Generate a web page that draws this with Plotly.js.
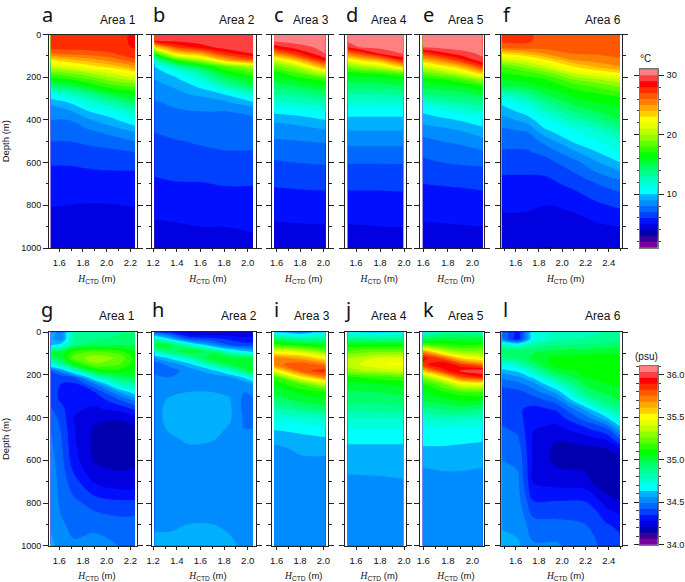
<!DOCTYPE html>
<html><head><meta charset="utf-8">
<script src="https://cdn.plot.ly/plotly-3.0.1.min.js"></script>
<style>html,body{margin:0;padding:0;background:#fff}</style></head>
<body><div id="chart" style="width:685px;height:582px"></div>
<script>
const depths=[0,30,60,90,120,150,180,210,240,280,320,360,400,450,500,550,600,700,800,900,1000];
const palette=['#7a00a0','#38009a','#0000b0','#0000e0','#0010ff','#0040ff','#0068ff','#008cff','#00b0ff','#00ffff','#00ffdc','#00ffb8','#00ff90','#00ff68','#00ff30','#00ff00','#30ff00','#60ff00','#90ff00','#c0ff00','#e8ff00','#ffff00','#ffd000','#ffa800','#ff8000','#ff5800','#ff2c00','#ff0000','#ff4040','#ff8080'];
const areaNames=['Area 1','Area 2','Area 3','Area 4','Area 5','Area 6'];
const letters=['a','b','c','d','e','f','g','h','i','j','k','l'];

const hTemp1=[1.527,1.68,1.85,2.05,2.24];
const temp1=[
[27.5,27.5,27.4,25.8,23,21,18.5,16.5,14.5,11,9.2,8.5,8,7.4,7,6.5,6.1,5.4,5.05,4.5,4.1],
[27.5,27.5,27.4,26.3,23.8,21.5,19,17,15,12,10,8.8,8,7.4,7,6.5,6.1,5.4,5,4.5,4.1],
[27.5,27.5,27.4,26.5,24.5,22.5,20,18,16.3,13.5,11.5,10,8.9,7.9,7.2,6.7,6.2,5.5,4.95,4.5,4.1],
[27.6,27.6,27.5,26.9,25.5,23.5,21.3,19.5,17.8,15.3,13,11,9.7,8.5,7.5,6.8,6.3,5.5,4.97,4.5,4.1],
[28.2,28.2,28.1,27.7,26.8,24.8,22.5,20.5,18.3,16.2,14.5,12.5,11,9.2,8,7,6.3,5.5,5.05,4.5,4.1]];
const hTemp2=[1.21,1.4,1.6,1.8,2.045];
const temp2=[
[29.5,29,23,17,12.5,10,9.5,9,8.7,8.2,7.9,7.6,7.4,7.05,6.8,6.5,6.3,5.85,5.3,4.85,4.4],
[29.6,29.2,27,23,17.5,13,10.5,9.8,9.2,8.7,8.2,7.9,7.6,7.3,6.95,6.65,6.4,5.95,5.4,4.9,4.4],
[29.7,29.5,28.5,24.5,20,15.5,13,11.5,10.3,9.3,8.2,8,7.7,7.4,7.1,6.85,6.5,5.95,5.45,5,4.45],
[29.8,29.7,29.4,27.5,24,18,16,14.5,12.5,10,8.7,8,7.8,7.5,7.25,6.95,6.7,6.05,5.55,5,4.5],
[29.8,29.7,29.6,29,26.5,20,18,16,15,12,9.8,8.2,7.85,7.5,7.25,6.95,6.7,6.05,5.55,5.1,4.75]];
const hTemp3=[1.577,1.75,2.02];
const temp3=[
[30.5,30.2,28.3,25,21,18.5,16.5,15.5,14.5,13,11.8,10.3,9.2,8.4,7.9,7.3,6.9,6.1,5.45,4.85,4.4],
[30.6,30.4,29.4,27.3,23.5,20,17.8,16.2,15,13.4,12,10.5,9.4,8.5,7.95,7.45,7,6.15,5.5,4.9,4.4],
[30.7,30.6,30.4,30.1,28.5,25,21,17.5,16,14.5,12.7,11,10,8.9,8.1,7.5,7.1,6.2,5.55,4.95,4.45]];
const hTemp4=[1.53,1.65,1.8,1.994];
const temp4=[
[30.4,30.2,29,25.5,22,19,16.5,15.3,14.5,13,11.7,10.5,9.7,9,8.3,7.65,7.05,6.2,5.55,4.95,4.4],
[30.6,30.5,30.2,27,23.3,20,17,15.4,14.5,13,11.7,10.5,9.7,9,8.3,7.65,7.05,6.2,5.55,4.95,4.4],
[30.6,30.5,30.3,29,24.5,21,17.3,15.5,14.6,13,11.7,10.5,9.7,9,8.3,7.65,7.05,6.2,5.55,5,4.45],
[30.7,30.6,30.5,30.1,28,24,18.5,16,15,13.2,11.8,10.5,9.7,9,8.3,7.65,7.05,6.25,5.55,5,4.5]];
const hTemp5=[1.595,1.75,1.9,2.085];
const temp5=[
[30.6,30.4,30,27,24,21,18.5,16.5,15.3,14,11.5,10.2,9.4,8.4,7.7,7.2,6.8,6,5.45,4.85,4.4],
[30.7,30.5,30.3,28.5,25.5,22.5,19.5,17,15.6,14.3,12.5,10.8,9.7,8.7,8,7.4,7,6.05,5.5,4.9,4.4],
[30.7,30.6,30.4,29.5,27.5,24,21,17.8,16,14.5,13,11.3,10.1,9,8.2,7.6,7.1,6.1,5.5,4.95,4.45],
[30.7,30.6,30.5,30.2,29.8,27.5,24,20,17.2,15.3,13.7,12.2,10.7,9.6,8.7,7.9,7.2,6.2,5.55,5,4.5]];
const hTemp6=[1.48,1.7,1.85,2.1,2.3,2.496];
const temp6=[
[27.3,27.2,26.3,23,20.5,18,17,16,15.5,12,10.2,9.4,8.5,7.8,7.3,6.9,6.4,5.7,5.15,4.7,4.3],
[27.3,27.2,26.6,24,21.5,19.5,17.6,16.5,15.5,13.5,11.7,10.5,9.5,8.1,7.4,6.9,6.4,5.7,5.15,4.65,4.1],
[26.5,26.5,26.4,25,22.8,20.8,18.5,17,16.2,15,13.3,12,10.8,9.8,8.3,7.3,6.6,5.65,5,4.5,3.95],
[26.5,26.5,26.4,26,25,23,21,19,17.5,16.3,15.4,14,12.5,11,10.2,8.8,7.6,6.3,5.2,4.6,4.1],
[26.5,26.5,26.4,26.1,25.5,24.2,22.2,20,18.3,16.8,16,15,13.7,11.9,11,10,8.9,7,5.8,4.8,4.2],
[26.5,26.5,26.4,26.2,25.9,25,23,20.8,19.3,17.5,16.3,15.5,15,13.3,12,11,10,7.5,6.2,5,4.3]];

const hSal1=[1.527,1.62,1.72,1.9,2.1,2.24];
const sal1=[
[34.6,34.58,34.62,35.03,34.95,34.75,34.42,34.38,34.37,34.37,34.38,34.43,34.46,34.49,34.5,34.51,34.52,34.53,34.54,34.55,34.58],
[34.52,34.5,34.68,35,35,34.85,34.55,34.38,34.35,34.34,34.34,34.37,34.39,34.41,34.42,34.43,34.44,34.46,34.47,34.5,34.53],
[34.85,34.85,34.9,35.15,35.22,35.05,34.75,34.42,34.34,34.33,34.31,34.29,34.28,34.285,34.29,34.3,34.31,34.38,34.44,34.47,34.5],
[34.88,34.9,34.95,35.2,35.3,35.25,35.05,34.75,34.5,34.35,34.3,34.27,34.23,34.2,34.19,34.19,34.2,34.27,34.39,34.47,34.52],
[34.9,34.92,34.98,35.15,35.25,35.2,35.1,34.95,34.8,34.55,34.4,34.3,34.22,34.18,34.17,34.17,34.19,34.23,34.37,34.45,34.49],
[34.93,34.93,34.97,35.05,35.1,35.08,35.05,35,34.85,34.68,34.5,34.36,34.26,34.2,34.19,34.19,34.2,34.23,34.37,34.45,34.48]];
const hSal2=[1.21,1.35,1.5,1.7,1.85,1.97,2.045];
const sal2=[
[34.45,34.8,35.05,34.78,34.55,34.44,34.47,34.5,34.52,34.53,34.54,34.54,34.54,34.54,34.53,34.53,34.53,34.53,34.54,34.55,34.58],
[34.35,34.6,35,34.95,34.65,34.52,34.46,34.49,34.53,34.55,34.57,34.58,34.58,34.57,34.55,34.54,34.53,34.53,34.54,34.55,34.58],
[34.24,34.4,34.8,35.05,34.8,34.6,34.52,34.52,34.54,34.56,34.58,34.59,34.59,34.58,34.57,34.55,34.54,34.53,34.54,34.56,34.59],
[34.2,34.37,34.55,34.95,35.05,34.85,34.6,34.53,34.54,34.56,34.58,34.6,34.6,34.59,34.565,34.54,34.53,34.53,34.54,34.56,34.58],
[34.22,34.33,34.42,34.75,35.05,35,34.75,34.55,34.52,34.55,34.565,34.57,34.57,34.55,34.54,34.53,34.53,34.53,34.54,34.55,34.57],
[34.22,34.3,34.38,34.65,35.03,35.05,34.95,34.65,34.52,34.49,34.47,34.47,34.48,34.49,34.5,34.52,34.52,34.52,34.53,34.54,34.55],
[34.25,34.3,34.38,34.6,34.98,35.05,35.03,34.75,34.57,34.53,34.46,34.46,34.47,34.49,34.5,34.51,34.52,34.52,34.53,34.53,34.54]];
const hSal3=[1.577,1.8,2.02];
const sal3=[
[34.68,34.95,35.17,35.45,35.72,35.72,35.45,35.15,35.08,35,34.93,34.82,34.73,34.64,34.58,34.54,34.52,34.51,34.51,34.51,34.52],
[34.55,34.85,35.1,35.4,35.65,35.8,35.78,35.5,35.2,35.07,35,34.88,34.76,34.66,34.6,34.57,34.55,34.52,34.51,34.51,34.51],
[34.7,34.88,35.05,35.25,35.5,35.72,35.87,35.72,35.4,35.12,35.03,34.95,34.78,34.68,34.62,34.575,34.55,34.52,34.51,34.51,34.51]];
const hSal4=[1.53,1.75,1.994];
const sal4=[
[34.72,34.88,35.08,35.2,35.33,35.36,35.3,35.1,35.03,34.97,34.93,34.87,34.78,34.71,34.65,34.61,34.58,34.55,34.54,34.54,34.55],
[34.68,34.87,35.08,35.25,35.4,35.45,35.35,35.15,35.05,34.98,34.93,34.87,34.78,34.71,34.65,34.61,34.585,34.55,34.54,34.54,34.56],
[34.72,34.88,35.08,35.25,35.42,35.5,35.4,35.2,35.07,35,34.95,34.88,34.78,34.71,34.65,34.61,34.59,34.555,34.54,34.54,34.54]];
const hSal5=[1.595,1.75,1.9,2.085];
const sal5=[
[34.7,34.97,35.22,35.7,35.92,35.87,35.6,35.28,35.12,35.04,34.99,34.88,34.78,34.69,34.65,34.62,34.57,34.54,34.53,34.53,34.53],
[34.88,35,35.15,35.4,35.8,35.95,35.85,35.5,35.25,35.1,35.02,34.92,34.8,34.7,34.65,34.62,34.58,34.54,34.53,34.53,34.53],
[34.88,35,35.12,35.28,35.55,35.85,35.97,35.8,35.45,35.17,35.05,34.95,34.8,34.7,34.65,34.61,34.58,34.54,34.53,34.53,34.53],
[34.85,35,35.14,35.28,35.43,35.72,36.02,35.9,35.5,35.18,35.05,34.9,34.78,34.68,34.64,34.6,34.57,34.54,34.53,34.53,34.53]];
const hSal6=[1.48,1.62,1.75,1.95,2.2,2.38,2.496];
const sal6=[
[34.5,34.5,34.8,34.95,34.88,34.72,34.6,34.5,34.45,34.38,34.36,34.37,34.39,34.43,34.46,34.48,34.49,34.5,34.52,34.55,34.59],
[34.32,34.3,34.75,34.95,34.93,34.78,34.65,34.55,34.47,34.4,34.36,34.36,34.37,34.4,34.43,34.46,34.48,34.5,34.52,34.54,34.57],
[34.72,34.7,34.85,34.97,35,34.95,34.8,34.65,34.54,34.45,34.38,34.33,34.31,34.285,34.27,34.265,34.27,34.275,34.36,34.45,34.5],
[34.8,34.82,34.9,35,35.08,35.08,35.02,34.9,34.75,34.58,34.45,34.36,34.31,34.26,34.215,34.19,34.19,34.25,34.36,34.44,34.5],
[34.8,34.85,34.92,35.02,35.08,35.1,35.07,35.05,35,34.92,34.78,34.58,34.46,34.34,34.25,34.19,34.18,34.235,34.36,34.42,34.45],
[34.85,34.87,34.93,35.03,35.08,35.1,35.1,35.08,35.05,35,34.92,34.8,34.62,34.42,34.29,34.195,34.16,34.145,34.26,34.355,34.4],
[34.87,34.88,34.95,35.03,35.07,35.1,35.1,35.08,35.06,35.04,34.98,34.88,34.76,34.6,34.42,34.27,34.17,34.145,34.22,34.33,34.38]];

// station positions along the top of each column (start, end, gap)
const rug1=[1.518,1.524,null,1.541,1.547,null,1.56,1.566,null,1.592,1.6,null,1.614,1.682,null,1.696,2.156,null,2.185,2.2,null,2.213,2.241];
const rug2=[1.203,1.209,null,1.27,1.276,null,1.29,1.318,null,1.332,1.402,null,1.416,2.006,null,2.026,2.037,null,2.058,2.064];
const rug3=[1.557,1.566,null,1.58,1.6,null,1.614,1.643,null,1.657,1.686,null,1.7,1.97,null,1.985,2.03];
const rug4=[1.536,1.564,null,1.578,1.911,null,1.925,1.939,null,1.958,1.964,null,1.986,1.992];
const rug5=[1.595,1.605,null,1.622,2.009,null,2.022,2.05,null,2.06,2.066,null,2.087,2.093];
const rug6=[1.477,1.483,null,1.534,1.54,null,1.603,1.666,null,1.683,1.78,null,1.794,2.38,null,2.406,2.412,null,2.448,2.454,null,2.506,2.512];

const W=685,H=582;
const px=v=>v/W, py=v=>1-v/H;
const frames=[
 {l:49,r:137,x0:1.513,x1:2.256},{l:152,r:256,x0:1.19,x1:2.07},{l:271.7,r:328,x0:1.557,x1:2.04},
 {l:345,r:405.7,x0:1.508,x1:2.014},{l:420,r:484,x0:1.573,x1:2.095},{l:501,r:622.3,x0:1.474,x1:2.516}];
const rows=[{t:34.5,b:248},{t:332.3,b:545.7}];
const titleRight=[[137.3,256,330,407.7,485,621.7],[136,258,331,407.7,485,622.3]];
const titleY=[20,316];
const letterX=[47,159,279,352,428,507,47,158,276,348,428,505];
const letterY=[14,14,14,14,14,14,309,309,309,309,309,309];

const sans='"Liberation Sans",Arial,sans-serif';
const lineColor='#222';
const hTitle='&nbsp;&nbsp;&nbsp;<span style="font-family:Liberation Serif"><i>H</i></span><sub>CTD</sub> (m)';
const tempCfg={min:1,max:31,size:1};
const salCfg={min:34,max:36.1,size:0.07};
const colorscale=[[0,palette[0]]].concat(palette.map((c,i)=>[(i+0.5)/palette.length,c]),[[1,palette[palette.length-1]]]);
const transpose=m=>m[0].map((_,r)=>m.map(c=>c[r]));

const panels=[
 [hTemp1,temp1,rug1],[hTemp2,temp2,rug2],[hTemp3,temp3,rug3],[hTemp4,temp4,rug4],[hTemp5,temp5,rug5],[hTemp6,temp6,rug6],
 [hSal1,sal1,rug1],[hSal2,sal2,rug2],[hSal3,sal3,rug3],[hSal4,sal4,rug4],[hSal5,sal5,rug5],[hSal6,sal6,rug6]];

const traces=[],layout={width:W,height:H,margin:{l:0,r:0,t:0,b:0,pad:0},paper_bgcolor:'#fff',plot_bgcolor:'#fff',showlegend:false,font:{family:sans,color:'#111',size:9.5},annotations:[]};
const note=(text,x,y,size,xanchor,family)=>layout.annotations.push({text,xref:'paper',yref:'paper',x:px(x),y:py(y),xanchor,yanchor:'middle',showarrow:false,borderpad:0,font:{size,family:family||sans,color:'#111'}});

panels.forEach((p,i)=>{
 const n=i+1,row=i<6?0:1,col=i%6,f=frames[col],cfg=row?salCfg:tempCfg,s=n===1?'':n;
 traces.push({type:'contour',x:p[0],y:depths,z:transpose(p[1]),xaxis:'x'+s,yaxis:'y'+s,colorscale,zmin:cfg.min,zmax:cfg.max,showscale:false,hoverinfo:'skip',
  autocontour:false,contours:{coloring:'fill',showlines:false,start:cfg.min,end:cfg.max,size:cfg.size},line:{width:0}});
 traces.push({type:'scatter',mode:'lines',x:p[2],y:p[2].map(v=>v===null?null:-15),xaxis:'x'+s,yaxis:'y'+s,cliponaxis:false,hoverinfo:'skip',line:{color:'#000',width:1.2}});
 layout['xaxis'+s]={domain:[px(f.l),px(f.r)],range:[f.x0,f.x1],anchor:'y'+s,dtick:0.2,tick0:0,tickformat:'.1f',ticks:'outside',ticklen:3,tickwidth:1,tickcolor:lineColor,
  minor:{dtick:0.1,ticks:'outside',ticklen:2,tickwidth:1,tickcolor:lineColor},showline:true,linecolor:lineColor,linewidth:1,mirror:true,showgrid:false,zeroline:false,ticklabelstandoff:3,
  tickfont:{size:9.5,family:sans,color:'#111'},title:{text:hTitle,standoff:7,font:{size:9.5,family:sans,color:'#111'}}};
 layout['yaxis'+s]={domain:[py(rows[row].b),py(rows[row].t)],range:[1000,0],anchor:'x'+s,dtick:200,tick0:0,ticks:'outside',ticklen:5,tickwidth:1,tickcolor:lineColor,
  minor:{dtick:100,ticks:'outside',ticklen:2.5,tickwidth:1,tickcolor:lineColor},showline:true,linecolor:lineColor,linewidth:1,mirror:'ticks',showgrid:false,zeroline:false,
  showticklabels:col===0,tickfont:{size:9,family:sans,color:'#111'},title:col===0?{text:'Depth (m)',standoff:16,font:{size:9.5,family:sans,color:'#111'}}:undefined};
 note(areaNames[col],titleRight[row][col],titleY[row],12,'right');
 note(letters[i],letterX[i],letterY[i],20,'center','"Noto Sans"');
});

// colour keys
[{t:69.3,b:247.7,l:640,r:657.7,cfg:tempCfg,vals:[10,20,30],text:['10','20','30'],minor:2,unit:'°C',unitX:645.7,unitY:59},
 {t:366,b:544.7,l:639.5,r:657.7,cfg:salCfg,vals:[34,34.5,35,35.5,36],text:['34.0','34.5','35.0','35.5','36.0'],minor:0.1,unit:'(psu)',unitX:646.7,unitY:356}].forEach((k,i)=>{
 const n=13+i;
 traces.push({type:'contour',x:[0,1],y:[k.cfg.min,k.cfg.max],z:[[k.cfg.min,k.cfg.min],[k.cfg.max,k.cfg.max]],xaxis:'x'+n,yaxis:'y'+n,colorscale,zmin:k.cfg.min,zmax:k.cfg.max,showscale:false,hoverinfo:'skip',
  autocontour:false,contours:{coloring:'fill',showlines:false,start:k.cfg.min,end:k.cfg.max,size:k.cfg.size},line:{width:0}});
 layout['xaxis'+n]={domain:[px(k.l),px(k.r)],range:[0,1],anchor:'y'+n,showticklabels:false,ticks:'',showline:true,linecolor:'#777',linewidth:1,mirror:true,showgrid:false,zeroline:false};
 layout['yaxis'+n]={domain:[py(k.b),py(k.t)],range:[k.cfg.min,k.cfg.max],anchor:'x'+n,side:'right',tickvals:k.vals,ticktext:k.text,ticks:'outside',ticklen:5,tickwidth:1,tickcolor:lineColor,
  minor:{dtick:k.minor,tick0:0,ticks:'outside',ticklen:2.5,tickwidth:1,tickcolor:'#444'},showline:true,linecolor:'#777',linewidth:1,mirror:'ticks',showgrid:false,zeroline:false,ticklabelstandoff:1,tickfont:{size:9.2,family:sans,color:'#111'}};
 note(k.unit,k.unitX,k.unitY,10,'center');
});

Plotly.newPlot('chart',traces,layout,{displayModeBar:false,staticPlot:true});
</script></body></html>
